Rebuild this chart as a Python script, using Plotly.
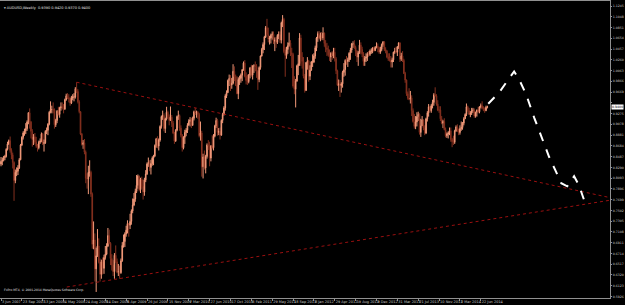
import pandas as pd
import plotly.graph_objects as go

# ---------------- data (AUDUSD weekly) ----------------
first_open = 0.8350
week_close = [
 .8400,.8420,.8470,.8490,.8620,.8720,.8780,.8600,.8520,.8380,
 .8050,.8200,.8220,.8280,.8430,.8700,.8840,.8920,.8960,.9000,
 .9120,.9290,.9120,.8950,.8800,.8850,.8750,.8680,.8650,.8750,
 .8770,.8900,.8730,.8740,.8950,.8970,.9080,.9300,.9350,.9350,
 .9340,.9070,.9150,.9320,.9260,.9380,.9400,.9390,.9360,.9530,
 .9600,.9560,.9550,.9470,.9560,.9580,.9580,.9730,.9680,.9490,
 .9310,.8900,.8710,.8740,.8570,.8090,.8080,.8200,.8200,.7800,
 .6880,.6960,.6430,.6670,.6850,.6560,.6330,.6560,.6440,.6640,
 .6700,.6850,.7040,.6900,.6620,.6500,.6380,.6680,.6560,.6370,
 .6380,.6360,.6580,.6860,.6930,.7070,.7140,.7260,.7230,.7300,
 .7490,.7600,.7710,.7850,.7960,.8130,.7880,.8070,.7940,.7840,
 .8060,.8170,.8350,.8380,.8290,.8360,.8460,.8500,.8690,.8810,
 .8680,.8790,.9040,.9220,.9240,.9000,.9180,.9300,.9220,.9150,
 .9210,.9100,.8920,.8770,.8970,.9220,.9240,.9010,.8880,.8650,
 .8840,.8930,.8970,.9060,.9130,.9160,.9060,.9190,.9310,.9290,
 .9300,.9260,.8870,.8920,.8300,.8480,.8280,.8490,.8700,.8680,
 .8460,.8680,.8650,.8860,.9050,.9150,.8930,.8950,.8880,.9150,
 .9260,.9380,.9600,.9660,.9880,.9920,.9800,.9830,1.0050,.9950,
 .9800,.9640,.9900,.9920,.9980,1.0080,1.0200,.9960,.9880,.9860,
 .9980,1.0110,.9980,1.0150,1.0150,1.0140,1.0050,.9900,1.0120,1.0330,
 1.0450,1.0540,1.0680,1.0850,1.0720,1.0640,1.0660,1.0710,1.0730,1.0600,
 1.0620,1.0580,1.0710,1.0720,1.0620,1.0940,1.1000,1.0410,1.0340,1.0450,
 1.0520,1.0570,1.0390,1.0360,.9780,.9720,.9870,1.0150,1.0190,1.0660,
 1.0310,1.0230,.9960,.9700,1.0210,1.0240,.9960,1.0070,1.0220,1.0220,
 1.0330,1.0480,1.0660,1.0740,1.0650,1.0710,1.0660,1.0750,1.0560,1.0480,
 1.0450,1.0350,1.0310,1.0380,1.0330,1.0400,1.0280,1.0060,.9800,.9820,
 .9790,.9820,1.0030,1.0080,1.0250,1.0230,1.0260,1.0380,1.0440,1.0550,
 1.0550,1.0490,1.0420,1.0310,1.0390,1.0530,1.0450,1.0370,1.0230,1.0290,
 1.0310,1.0370,1.0360,1.0420,1.0420,1.0480,1.0430,1.0490,1.0510,1.0480,
 1.0400,1.0450,1.0540,1.0590,1.0450,1.0420,1.0310,1.0280,1.0250,1.0220,
 1.0260,1.0400,1.0420,1.0400,1.0500,1.0570,1.0270,1.0330,1.0250,1.0010,
 .9890,.9640,.9560,.9540,.9560,.9330,.9130,.9040,.9120,.9220,
 .9260,.8930,.9050,.9160,.9010,.8920,.9180,.9290,.9400,.9330,
 .9420,.9480,.9620,.9600,.9450,.9340,.9340,.9180,.9100,.9130,
 .8980,.8870,.8900,.8920,.8960,.8800,.8760,.8750,.8960,.9030,
 .8980,.8930,.9000,.9020,.9100,.9180,.9260,.9400,.9330,.9260,
 .9280,.9330,.9340,.9230,.9300,.9340,.9310,.9400,.9420,.9370,
 .9370,.9330,.9390,.9400,
]
week_high = [
 .8480,.8470,.8500,.8520,.8640,.8760,.8800,.8855,.8640,.8560,
 .8400,.8250,.8290,.8330,.8460,.8720,.8860,.8950,.9000,.9100,
 .9150,.9300,.9370,.9140,.8990,.8900,.8920,.8850,.8720,.8780,
 .8820,.8930,.8920,.8800,.8970,.9020,.9100,.9320,.9500,.9420,
 .9480,.9370,.9180,.9340,.9400,.9400,.9480,.9480,.9450,.9550,
 .9640,.9650,.9630,.9580,.9600,.9630,.9650,.9760,.9850,.9720,
 .9520,.9320,.8920,.8790,.8810,.8600,.8180,.8320,.8420,.8230,
 .7830,.7300,.7080,.6820,.7160,.6990,.6620,.6600,.6640,.6690,
 .6850,.6900,.7180,.7150,.6920,.6700,.6590,.6720,.6860,.6620,
 .6520,.6490,.6620,.6920,.7060,.7100,.7220,.7320,.7270,.7440,
 .7520,.7720,.7820,.7900,.8150,.8160,.8140,.8100,.8120,.8070,
 .8100,.8240,.8380,.8470,.8420,.8430,.8490,.8520,.8710,.8830,
 .8860,.8820,.9060,.9240,.9330,.9280,.9200,.9400,.9330,.9260,
 .9405,.9250,.9140,.8940,.8990,.9240,.9330,.9260,.9060,.8900,
 .8860,.8980,.9010,.9100,.9170,.9210,.9200,.9220,.9330,.9380,
 .9330,.9320,.9290,.9130,.8960,.8540,.8600,.8520,.8730,.8790,
 .8760,.8700,.8880,.8900,.9070,.9200,.9180,.9010,.9020,.9170,
 .9290,.9410,.9630,.9700,.9900,.9990,.9980,.9930,1.0180,1.0140,
 .9990,.9960,.9940,.9970,1.0010,1.0090,1.0230,1.0255,1.0030,.9990,
 1.0000,1.0130,1.0170,1.0160,1.0180,1.0230,1.0180,1.0070,1.0140,1.0340,
 1.0480,1.0580,1.0700,1.0880,1.1011,1.0850,1.0700,1.0740,1.0780,1.0780,
 1.0670,1.0680,1.0730,1.0780,1.0780,1.0960,1.1080,1.1030,1.0490,1.0500,
 1.0580,1.0760,1.0620,1.0480,1.0390,.9960,.9910,1.0170,1.0350,1.0750,
 1.0720,1.0400,1.0310,1.0000,1.0220,1.0310,1.0260,1.0160,1.0240,1.0360,
 1.0380,1.0520,1.0680,1.0780,1.0790,1.0760,1.0770,1.0856,1.0760,1.0620,
 1.0570,1.0520,1.0450,1.0400,1.0420,1.0480,1.0480,1.0310,1.0080,.9900,
 .9890,.9850,1.0060,1.0200,1.0270,1.0330,1.0300,1.0400,1.0480,1.0570,
 1.0600,1.0620,1.0520,1.0440,1.0420,1.0625,1.0580,1.0500,1.0400,1.0330,
 1.0380,1.0400,1.0420,1.0450,1.0470,1.0490,1.0500,1.0510,1.0580,1.0560,
 1.0500,1.0500,1.0560,1.0600,1.0600,1.0490,1.0440,1.0380,1.0380,1.0330,
 1.0300,1.0410,1.0480,1.0500,1.0510,1.0582,1.0580,1.0390,1.0420,1.0280,
 1.0040,.9900,.9680,.9740,.9690,.9610,.9370,.9270,.9230,.9300,
 .9310,.9280,.9180,.9230,.9170,.9060,.9200,.9320,.9450,.9420,
 .9450,.9530,.9650,.9757,.9630,.9520,.9410,.9410,.9230,.9160,
 .9190,.9020,.8930,.8950,.9020,.9020,.8830,.8870,.8980,.9060,
 .9080,.9000,.9060,.9130,.9120,.9210,.9280,.9460,.9420,.9380,
 .9320,.9380,.9380,.9370,.9310,.9350,.9400,.9410,.9460,.9500,
 .9410,.9390,.9420,.9420,
]
week_low = [
 .8310,.8330,.8400,.8420,.8470,.8600,.8700,.8560,.8440,.8270,
 .7677,.8000,.8130,.8150,.8260,.8420,.8680,.8800,.8870,.8900,
 .8960,.9080,.9000,.8820,.8670,.8700,.8720,.8650,.8580,.8620,
 .8720,.8750,.8700,.8580,.8720,.8900,.8880,.9060,.9280,.9280,
 .9280,.9000,.9030,.9100,.9240,.9200,.9330,.9350,.9280,.9340,
 .9510,.9540,.9480,.9420,.9450,.9520,.9500,.9550,.9650,.9460,
 .9280,.8880,.8690,.8630,.8530,.8000,.7900,.7800,.8120,.7750,
 .6800,.6790,.6200,.6008,.6650,.6530,.6200,.6250,.6330,.6340,
 .6600,.6680,.6830,.6880,.6500,.6400,.6300,.6250,.6540,.6350,
 .6300,.6250,.6340,.6560,.6820,.6830,.7020,.7080,.7020,.7160,
 .7240,.7450,.7580,.7660,.7820,.7900,.7850,.7820,.7900,.7700,
 .7770,.8020,.8150,.8300,.8220,.8160,.8320,.8330,.8480,.8650,
 .8640,.8600,.8760,.9000,.9160,.8950,.8920,.9150,.9180,.9060,
 .9140,.9030,.8900,.8720,.8760,.8950,.9160,.8960,.8840,.8580,
 .8620,.8720,.8860,.8920,.9060,.9040,.9010,.9050,.9150,.9250,
 .9200,.9180,.8840,.8780,.8120,.8087,.8250,.8180,.8450,.8610,
 .8310,.8400,.8620,.8600,.8840,.9010,.8870,.8880,.8800,.8870,
 .9100,.9240,.9330,.9560,.9650,.9780,.9690,.9730,.9810,.9870,
 .9780,.9630,.9540,.9800,.9840,.9870,1.0060,.9940,.9810,.9800,
 .9830,.9920,.9950,.9900,1.0020,1.0050,.9930,.9710,.9850,1.0080,
 1.0320,1.0380,1.0440,1.0660,1.0710,1.0580,1.0540,1.0560,1.0630,1.0550,
 1.0420,1.0480,1.0550,1.0640,1.0570,1.0560,1.0860,1.0380,.9950,1.0280,
 1.0370,1.0500,1.0330,1.0110,.9750,.9630,.9388,.9860,.9980,1.0150,
 1.0150,1.0100,.9920,.9660,.9690,1.0080,.9860,.9890,1.0060,1.0130,
 1.0200,1.0280,1.0420,1.0590,1.0630,1.0600,1.0620,1.0620,1.0500,1.0400,
 1.0330,1.0320,1.0240,1.0220,1.0260,1.0290,1.0230,1.0000,.9780,.9690,
 .9580,.9660,.9750,.9950,.9970,1.0170,1.0130,1.0220,1.0260,1.0390,
 1.0480,1.0460,1.0330,1.0220,1.0150,1.0370,1.0360,1.0310,1.0150,1.0150,
 1.0220,1.0240,1.0320,1.0330,1.0370,1.0380,1.0410,1.0420,1.0470,1.0400,
 1.0370,1.0370,1.0420,1.0500,1.0420,1.0380,1.0290,1.0240,1.0230,1.0120,
 1.0120,1.0220,1.0370,1.0380,1.0330,1.0460,1.0220,1.0240,1.0220,1.0000,
 .9840,.9600,.9530,.9520,.9460,.9230,.9110,.9000,.8990,.9040,
 .9140,.8890,.8848,.9050,.8970,.8880,.8900,.9130,.9220,.9300,
 .9290,.9370,.9420,.9590,.9420,.9320,.9290,.9140,.9080,.9010,
 .8970,.8840,.8830,.8820,.8880,.8760,.8660,.8700,.8720,.8940,
 .8940,.8880,.8890,.8960,.8980,.9060,.9180,.9230,.9310,.9250,
 .9210,.9250,.9290,.9200,.9200,.9220,.9280,.9280,.9370,.9350,
 .9320,.9290,.9320,.9370,
]
# weekly FX bars open at the previous week's close
week_open = [first_open] + week_close[:-1]

n = min(len(week_close), len(week_high), len(week_low))
week_dates = pd.date_range("2007-06-03", periods=n, freq="7D")

# hand-drawn objects on the chart
trend_up_dates = ["2008-07-13", "2016-05-10"]
trend_up_price = [0.9850, 0.7740]
trend_lo_dates = ["2008-05-21", "2016-05-10"]
trend_lo_price = [0.6098, 0.7685]
proj_dates = ["2014-08-01", "2014-09-28", "2014-11-09", "2014-12-18", "2015-01-14",
              "2015-02-21", "2015-04-05", "2015-05-18", "2015-06-24", "2015-07-27",
              "2015-08-28", "2015-09-29", "2015-11-05", "2015-12-01", "2016-01-02"]
proj_price = [0.9456, 0.9660, 0.9862, 1.0047, 0.9900,
              0.9622, 0.9198, 0.8792, 0.8480, 0.8239,
              0.8000, 0.7943, 0.8128, 0.7962, 0.7648]

# axis labels
x_tick_dates = pd.date_range("2007-06-03", "2014-06-22", freq="112D")
x_tick_text = [f"{d.day} {d.strftime('%b %Y')}" for d in x_tick_dates]
y_tick_vals = [1.1245, 1.1048, 1.0851, 1.0654, 1.0457, 1.0260, 1.0063, 0.9866,
               0.9669, 0.9472, 0.9275, 0.9078, 0.8881, 0.8684, 0.8487, 0.8290,
               0.8093, 0.7896, 0.7699, 0.7502, 0.7305, 0.7108, 0.6911, 0.6714,
               0.6517, 0.6320, 0.6123, 0.5926]
last_close = week_close[n - 1]
# the live-price box covers the axis label it sits on
y_tick_text = ["" if abs(v - last_close) < 0.009 else f"{v:.4f}" for v in y_tick_vals]

# ---------------- figure ----------------
FONT = "DejaVu Sans"
TXT = "#c8c8c8"
fig = go.Figure()
fig.add_trace(go.Candlestick(
    x=week_dates, open=week_open[:n], high=week_high[:n], low=week_low[:n], close=week_close[:n],
    increasing=dict(line=dict(color="#f39a7a", width=1), fillcolor="#f39a7a"),
    decreasing=dict(line=dict(color="#84301f", width=1), fillcolor="#84301f"),
    whiskerwidth=0, showlegend=False, hoverinfo="skip"))
fig.add_trace(go.Scatter(x=trend_up_dates, y=trend_up_price, mode="lines",
                         line=dict(color="#9a1010", width=1, dash="dot"),
                         showlegend=False, hoverinfo="skip"))
fig.add_trace(go.Scatter(x=trend_lo_dates, y=trend_lo_price, mode="lines",
                         line=dict(color="#9a1010", width=1, dash="dot"),
                         showlegend=False, hoverinfo="skip"))
fig.add_trace(go.Scatter(x=proj_dates, y=proj_price, mode="lines",
                         line=dict(color="#ffffff", width=2, dash="dash"),
                         showlegend=False, hoverinfo="skip"))

base = pd.Timestamp("2007-06-03")
x_lo = base + pd.Timedelta(days=7 * -0.766)
x_hi = base + pd.Timedelta(days=7 * 467.1)

fig.update_layout(
    width=625, height=305,
    margin=dict(l=0, r=15, t=1, b=7, pad=0),
    paper_bgcolor="#000000", plot_bgcolor="#000000",
    font=dict(family=FONT, size=3.2, color=TXT),
    xaxis=dict(type="date", range=[x_lo, x_hi], rangeslider=dict(visible=False),
               tickvals=x_tick_dates, ticktext=x_tick_text, tickangle=0, automargin=False,
               ticks="outside", ticklen=2, tickcolor="#909090",
               ticklabelposition="outside right",
               tickfont=dict(family=FONT, size=3.5, color=TXT),
               showgrid=False, zeroline=False, showline=True,
               linecolor="#909090", linewidth=1, mirror=True),
    yaxis=dict(side="right", range=[0.5897, 1.1338], automargin=False,
               tickvals=y_tick_vals, ticktext=y_tick_text,
               ticks="outside", ticklen=1, tickcolor="#909090",
               tickfont=dict(family=FONT, size=3.2, color=TXT),
               showgrid=False, zeroline=False, showline=True,
               linecolor="#909090", linewidth=1, mirror=True),
    annotations=[
        dict(x=0.004, y=0.99, xref="paper", yref="paper", xanchor="left", yanchor="top",
             text="▾ AUDUSD,Weekly  0.9390 0.9420 0.9370 0.9400", showarrow=False,
             font=dict(family=FONT, size=3.5, color="#e0e0e0")),
        dict(x=0.004, y=0.015, xref="paper", yref="paper", xanchor="left", yanchor="bottom",
             text="FxPro MT4, © 2001-2014 MetaQuotes Software Corp.", showarrow=False,
             font=dict(family=FONT, size=3, color="#e0e0e0")),
        dict(x=1.0, y=last_close, xref="paper", yref="y", xanchor="left", yanchor="middle",
             xshift=1, text=f"{last_close:.4f}", showarrow=False, bgcolor="#ffffff",
             borderpad=0, font=dict(family=FONT, size=3.2, color="#000000")),
    ],
)

fig.write_html("out.html")
